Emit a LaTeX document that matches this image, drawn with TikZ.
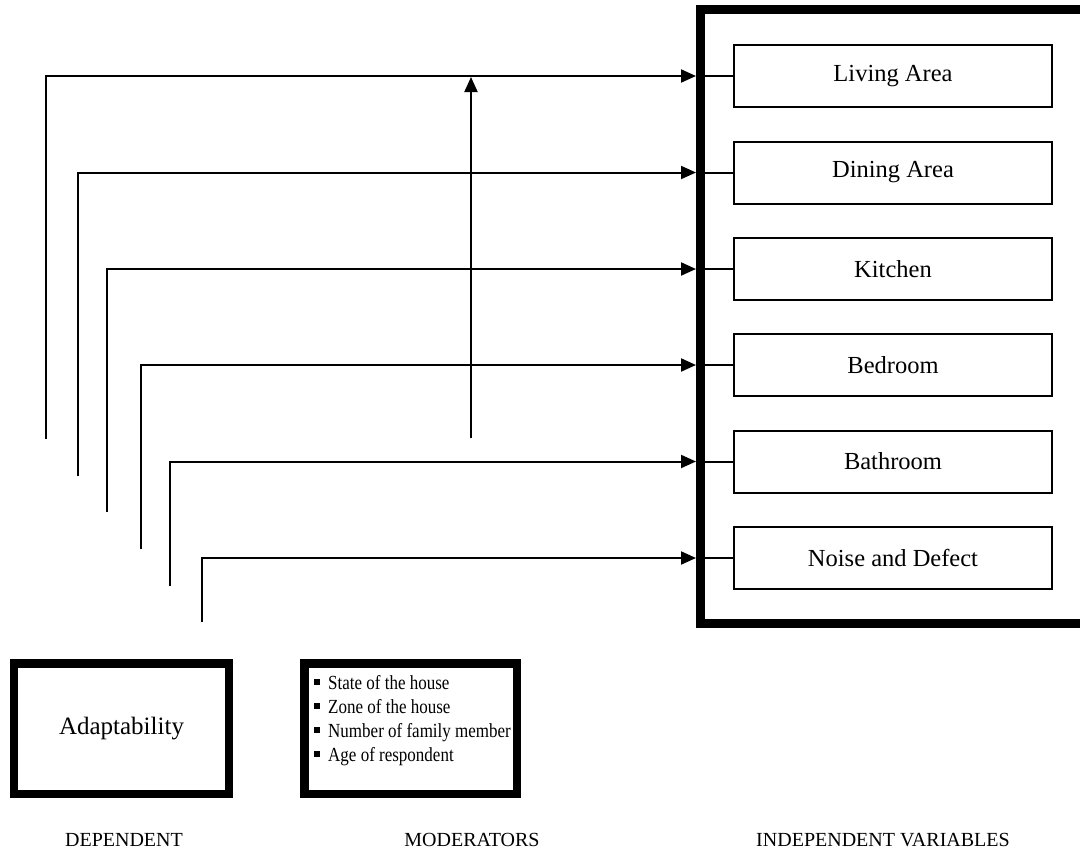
\documentclass[tikz,border=0pt]{standalone}
\usepackage{fontspec}
\setmainfont{Liberation Serif}
\usetikzlibrary{arrows.meta}
\newcommand{\sqb}{\rule[0.2em]{6pt}{6pt}\hspace{8pt}}
\newcommand{\modline}[1]{\sqb\scalebox{0.85}[1]{#1}}
\begin{document}
\begin{tikzpicture}[x=1pt,y=-1pt,
  ivbox/.style={draw,line width=2pt,minimum width=318pt,minimum height=62pt,inner sep=0pt,font=\fontsize{24.5}{28}\selectfont},
  heavybox/.style={draw,line width=8.5pt,inner sep=0pt},
  conn/.style={line width=2pt},
  arr/.style={line width=2pt,-{Triangle[length=15pt,width=13pt]}},
  lab/.style={font=\fontsize{20}{24}\selectfont}]
\useasboundingbox (0,0) rectangle (1080,852);
% large frame (its right side lies outside the picture)
\draw[line width=9pt] (700.5,9.5) rectangle (1110,623.5);
% independent variable boxes
\node[ivbox] (b1) at (893,76) {Living Area};
\node[ivbox] (b2) at (893,172.5) {Dining Area};
\node[ivbox] (b3) at (893,269) {Kitchen};
\node[ivbox] (b4) at (893,365) {Bedroom};
\node[ivbox] (b5) at (893,461.5) {Bathroom};
\node[ivbox] (b6) at (893,558) {Noise and Defect};
% arrow ends at the frame
\coordinate (e1) at (696,76);
\coordinate (e2) at (696,172.5);
\coordinate (e3) at (696,269);
\coordinate (e4) at (696,365);
\coordinate (e5) at (696,461.5);
\coordinate (e6) at (696,558);
\coordinate (f1) at (705,76);
\coordinate (f2) at (705,172.5);
\coordinate (f3) at (705,269);
\coordinate (f4) at (705,365);
\coordinate (f5) at (705,461.5);
\coordinate (f6) at (705,558);
% free starts of the connectors
\coordinate (s1) at (45.5,439);
\coordinate (s2) at (78,476);
\coordinate (s3) at (107,512);
\coordinate (s4) at (140.5,549);
\coordinate (s5) at (170,586);
\coordinate (s6) at (202,622);
\foreach \i in {1,...,6}{
  \draw[arr] (s\i) |- (e\i);
  \draw[conn] (f\i) -- (b\i.west);
}
% moderator arrow
\coordinate (m0) at (471,438);
\coordinate (m1) at (471,77);
\draw[arr] (m0) -- (m1);
% bottom boxes
\node[heavybox,minimum width=215pt,minimum height=130.5pt,font=\fontsize{25}{28}\selectfont] (dep) at (121.5,728.5) {Adaptability};
\node[heavybox,minimum width=212.5pt,minimum height=130.5pt] (mod) at (410.5,728.5) {};
\node[anchor=north west,align=left,inner sep=0pt,font=\fontsize{20}{24}\selectfont] (modtext) at (314,675)
  {\modline{State of the house}\\ \modline{Zone of the house}\\ \modline{Number of family member}\\ \modline{Age of respondent}};
% labels
\node[lab] (l1) at (124,840) {DEPENDENT};
\node[lab] (l2) at (472,840) {MODERATORS};
\node[lab] (l3) at (883,840) {INDEPENDENT VARIABLES};
\end{tikzpicture}
\end{document}
